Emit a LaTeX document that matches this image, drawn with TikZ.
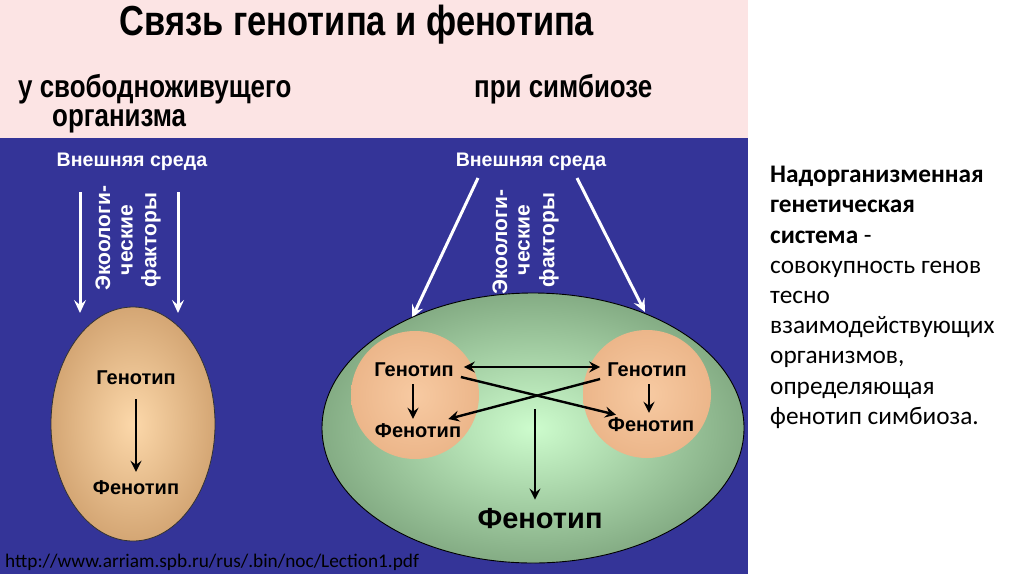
\documentclass[tikz,border=0pt]{standalone}
\usepackage{fontspec}
\setmainfont{Liberation Sans}
\newfontfamily\calib{Carlito}
\newfontfamily\narrowf[FakeStretch=0.82]{Liberation Sans}
\usetikzlibrary{arrows.meta,shapes.geometric,shadings}
\definecolor{pinkbg}{RGB}{252,228,228}
\definecolor{bluebg}{RGB}{52,52,152}
\definecolor{eggout}{RGB}{212,166,116}
\definecolor{eggin}{RGB}{252,216,170}
\definecolor{greenout}{RGB}{132,172,132}
\definecolor{greenin}{RGB}{205,252,205}
\definecolor{peachout}{RGB}{236,182,138}
\definecolor{peachin}{RGB}{247,202,162}
\tikzset{
  whb/.style={text=white, inner sep=0pt, font=\fontsize{19.6}{21}\selectfont\bfseries},
  whr/.style={text=white, inner sep=0pt, font=\fontsize{21}{22}\selectfont\bfseries},
  blk/.style={text=black, inner sep=0pt, font=\fontsize{20}{21}\selectfont\bfseries},
  head/.style={text=black, inner sep=0pt, font=\narrowf\fontsize{31.6}{33}\selectfont\bfseries},
  warr/.style={draw=white, line width=3pt, -{Stealth[length=13pt,width=12pt,inset=5pt]}},
  barr/.style={draw=black, line width=2.4pt, -{Stealth[length=11pt,width=11pt,inset=4pt]}},
  barr2/.style={draw=black, line width=2.4pt, {Stealth[length=11pt,width=11pt,inset=4pt]}-{Stealth[length=11pt,width=11pt,inset=4pt]}},
}
\begin{document}
\begin{tikzpicture}[x=1pt,y=-1pt]
\useasboundingbox (0,0) rectangle (1024,574);
\fill[white] (0,0) rectangle (1024,574);
\fill[pinkbg] (0,0) rectangle (748,138);
\fill[bluebg] (0,138) rectangle (748,574);
% headings
\node[text=black, inner sep=0pt, font=\narrowf\fontsize{42}{44}\selectfont\bfseries] (title) at (357,25) {Связь генотипа и фенотипа};
\node[head, anchor=west] (sub1) at (18,89) {у свободноживущего};
\node[head, anchor=west] (sub2) at (52,121) {организма};
\node[head, anchor=west] (sub3) at (474,89) {при симбиозе};
% left organism
\node[whb] (envL) at (132,162) {Внешняя среда};
\coordinate (aL1s) at (80,192); \coordinate (aL1e) at (80,313);
\coordinate (aL2s) at (178,192); \coordinate (aL2e) at (178,313);
\draw[warr] (aL1s) -- (aL1e);
\draw[warr] (aL2s) -- (aL2e);
\node[whr, rotate=90] (ecoL1) at (103,238) {Экоологи-};
\node[whr, rotate=90] (ecoL2) at (127,240) {ческие};
\node[whr, rotate=90] (ecoL3) at (151,240) {факторы};
\node[ellipse, draw=black!80, line width=0.8pt, inner color=eggin, outer color=eggout, minimum width=164pt, minimum height=234pt] (egg) at (133,424) {};
\node[blk] (gL) at (136,378) {Генотип};
\node[blk] (fL) at (136,488) {Фенотип};
\draw[barr] ([yshift=-14pt]gL.south) -- ([yshift=9pt]fL.north);
% right: symbiosis
\node[whb] (envR) at (531,162) {Внешняя среда};
\coordinate (aR1s) at (478,178); \coordinate (aR1e) at (412,318);
\coordinate (aR2s) at (577,178); \coordinate (aR2e) at (645,312);
\draw[warr] (aR1s) -- (aR1e);
\draw[warr] (aR2s) -- (aR2e);
\node[whr, rotate=90] (ecoR1) at (500,242) {Экоологи-};
\node[whr, rotate=90] (ecoR2) at (524,240) {ческие};
\node[whr, rotate=90] (ecoR3) at (549,240) {факторы};
\node[ellipse, draw=black, line width=0.9pt, inner color=greenin, outer color=greenout, minimum width=422pt, minimum height=270pt] (big) at (533,428) {};
\node[circle, inner color=peachin, outer color=peachout, minimum size=128pt] (cL) at (415,395) {};
\node[circle, inner color=peachin, outer color=peachout, minimum size=128pt] (cR) at (647,394) {};
\node[blk] (gL2) at (414,370) {Генотип};
\node[blk] (fL2) at (418,431) {Фенотип};
\node[blk] (gR2) at (647,370) {Генотип};
\node[blk] (fR2) at (651,425) {Фенотип};
\draw[barr] ([xshift=-1pt,yshift=-7pt]gL2.south) -- ([xshift=-5pt,yshift=5pt]fL2.north);
\draw[barr] ([xshift=2pt,yshift=-7pt]gR2.south) -- ([xshift=-2pt,yshift=5pt]fR2.north);
\draw[barr2] ([xshift=10pt,yshift=3pt]gL2.east) -- ([xshift=-7pt,yshift=3pt]gR2.west);
\draw[barr] ([xshift=7pt,yshift=-7pt]gL2.east) -- ([xshift=-35pt,yshift=3pt]fR2.north);
\draw[barr] ([xshift=-7pt,yshift=-9pt]gR2.west) -- ([xshift=-13pt,yshift=12pt]fL2.east);
\node[text=black, inner sep=0pt, font=\fontsize{29}{31}\selectfont\bfseries] (fBig) at (540,519) {Фенотип};
\coordinate (cArr) at (535,409);
\draw[barr] (cArr) -- ([xshift=-5pt,yshift=9pt]fBig.north);
% right text
\node[anchor=north west, inner sep=0pt, align=left, font=\calib\fontsize{25.3}{30.2}\selectfont] (desc) at (770,166)
 {\bfseries Надорганизменная\\ \bfseries генетическая\\ \bfseries система\mdseries{} -\\ совокупность генов\\ тесно\\ взаимодействующих\\ организмов,\\ определяющая\\ фенотип симбиоза.};
% url
\node[anchor=west, inner sep=0pt, font=\calib\fontsize{19.3}{20}\selectfont] (url) at (5,562) {http://www.arriam.spb.ru/rus/.bin/noc/Lection1.pdf};
\end{tikzpicture}
\end{document}
